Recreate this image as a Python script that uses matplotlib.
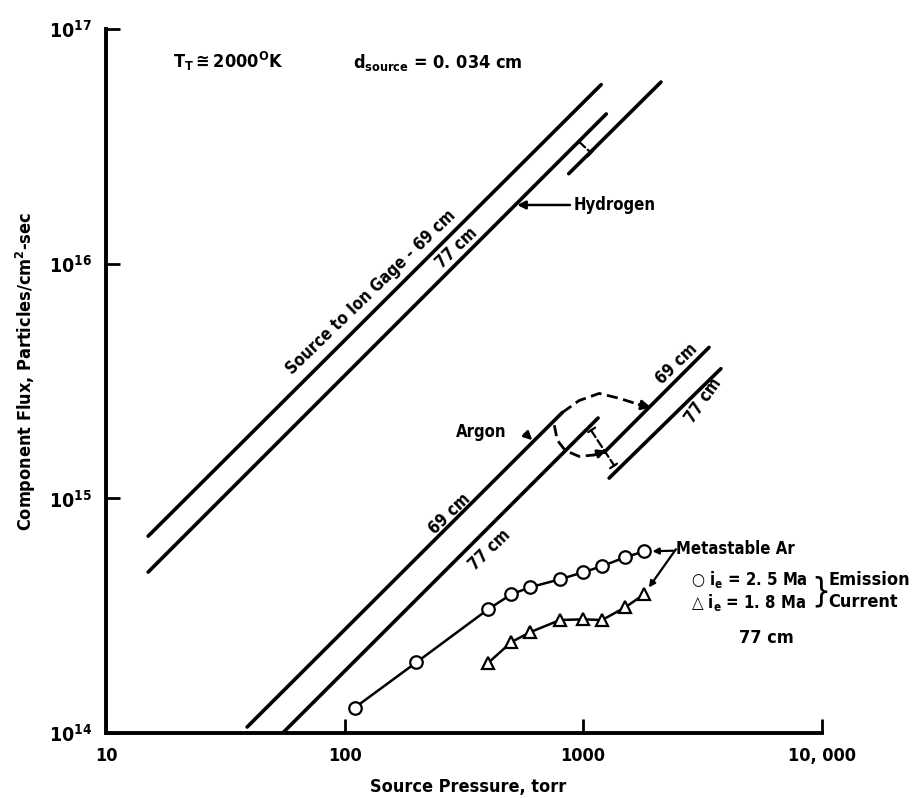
import matplotlib
matplotlib.use("Agg")
import matplotlib.pyplot as plt
from matplotlib.ticker import FixedLocator, FixedFormatter

plt.rcParams['font.family'] = ['DejaVu Sans']
plt.rcParams['font.stretch'] = 'condensed'
plt.rcParams['font.weight'] = 'bold'
plt.rcParams['mathtext.default'] = 'regular'

# hydrogen component flux, two source-to-gage distances (torr, particles/cm2-sec)
h69_p = [15, 1190]
h69_flux = [6.9e14, 5.8e16]
h77_p = [15, 1250]
h77_flux = [4.85e14, 4.35e16]
h77_shift_p = [870, 2120]
h77_shift_flux = [2.42e16, 5.95e16]

# argon component flux
ar69_p = [39, 817]
ar69_flux = [1.06e14, 2.32e15]
ar69_shift_p = [1225, 3370]
ar69_shift_flux = [1.57e15, 4.4e15]
ar77_p = [55, 1155]
ar77_flux = [1.0e14, 2.2e15]
ar77_shift_p = [1285, 3780]
ar77_shift_flux = [1.22e15, 3.57e15]

# transition paths between the argon curves
ar_upper_p = [817, 961, 1167, 1416, 1715, 1928]
ar_upper_flux = [2.32e15, 2.61e15, 2.80e15, 2.67e15, 2.51e15, 2.44e15]
ar_lower_p = [757, 779, 841, 961, 1111, 1248]
ar_lower_flux = [2.05e15, 1.77e15, 1.60e15, 1.51e15, 1.53e15, 1.60e15]

# offsets between the 77 cm curves
h_gap_p = [961, 1079]
h_gap_flux = [3.31e16, 2.97e16]
ar_gap_p = [1079, 1349]
ar_gap_flux = [1.95e15, 1.38e15]

# metastable argon, 77 cm
meta_p = [110, 200, 400, 500, 600, 800, 1000, 1200, 1500, 1800]
meta_25ma = [1.28e14, 2.0e14, 3.37e14, 3.9e14, 4.18e14, 4.52e14, 4.84e14, 5.14e14, 5.61e14, 5.94e14]
meta_18ma_p = [400, 500, 600, 800, 1000, 1200, 1500, 1800]
meta_18ma = [1.99e14, 2.44e14, 2.69e14, 3.03e14, 3.05e14, 3.03e14, 3.43e14, 3.9e14]

x_ticks = [10, 100, 1000, 10000]
x_labels = ['10', '100', '1000', '10, 000']
y_ticks = [1e14, 1e15, 1e16, 1e17]
y_labels = ['$10^{14}$', '$10^{15}$', '$10^{16}$', '$10^{17}$']

fig = plt.figure(figsize=(9.15, 7.98), dpi=100)
ax = fig.add_axes([0.116, 0.0815, 0.782, 0.882])
ax.set_xscale('log')
ax.set_yscale('log')
ax.set_xlim(10, 10000)
ax.set_ylim(1e14, 1e17)

lw = 2.6
for p, f in [(h69_p, h69_flux), (h77_p, h77_flux), (h77_shift_p, h77_shift_flux),
             (ar69_p, ar69_flux), (ar69_shift_p, ar69_shift_flux),
             (ar77_p, ar77_flux), (ar77_shift_p, ar77_shift_flux)]:
    ax.plot(p, f, color='black', lw=lw, solid_capstyle='round')

# dashed transition paths with arrowheads
ax.plot(ar_upper_p[:-1], ar_upper_flux[:-1], color='black', lw=2, ls=(0, (4, 2)))
ax.annotate('', xy=(ar_upper_p[-1], ar_upper_flux[-1]), xytext=(ar_upper_p[-2], ar_upper_flux[-2]),
            arrowprops=dict(arrowstyle='-|>', color='black', lw=2, mutation_scale=14,
                            shrinkA=0, shrinkB=0))
ax.plot(ar_lower_p[:-1], ar_lower_flux[:-1], color='black', lw=2, ls=(0, (4, 2)))
ax.annotate('', xy=(ar_lower_p[-1], ar_lower_flux[-1]), xytext=(ar_lower_p[-2], ar_lower_flux[-2]),
            arrowprops=dict(arrowstyle='-|>', color='black', lw=2, mutation_scale=12,
                            shrinkA=0, shrinkB=0))

for p, f in [(h_gap_p, h_gap_flux), (ar_gap_p, ar_gap_flux)]:
    ax.annotate('', xy=(p[1], f[1]), xytext=(p[0], f[0]),
                arrowprops=dict(arrowstyle='|-|, widthA=0.35, widthB=0.35', color='black',
                                lw=1.6, ls='--', shrinkA=0, shrinkB=0))

# metastable argon curves
ax.plot(meta_p, meta_25ma, color='black', lw=1.8, marker='o', ms=9,
        mfc='white', mec='black', mew=1.6)
ax.plot(meta_18ma_p, meta_18ma, color='black', lw=1.8, marker='^', ms=9,
        mfc='white', mec='black', mew=1.6)

fs = 12
lbl = dict(fontsize=fs, fontweight='bold', ha='center', va='center', rotation_mode='anchor')
ax.text(128.5, 7.53e15, 'Source to Ion Gage - 69 cm', rotation=44, **lbl)
ax.text(294, 1.17e16, '77 cm', rotation=44, **lbl)
ax.text(275, 8.6e14, '69 cm', rotation=44, **lbl)
ax.text(405, 6.0e14, '77 cm', rotation=44, **lbl)
ax.text(2473, 3.75e15, '69 cm', rotation=44, **lbl)
ax.text(3206, 2.61e15, '77 cm', rotation=55, **lbl)

ax.annotate('Hydrogen', xy=(529, 1.78e16), xytext=(916, 1.78e16), fontsize=fs,
            fontweight='bold', ha='left', va='center',
            arrowprops=dict(arrowstyle='-|>', color='black', lw=1.8, mutation_scale=12,
                            shrinkA=1, shrinkB=0))
ax.annotate('Argon', xy=(612, 1.77e15), xytext=(374, 1.91e15), fontsize=fs,
            fontweight='bold', ha='center', va='center',
            arrowprops=dict(arrowstyle='-|>', color='black', lw=1.8, mutation_scale=12,
                            shrinkA=12, shrinkB=0, connectionstyle='arc3,rad=-0.35'))
ax.annotate('Metastable Ar', xy=(meta_p[-1], meta_25ma[-1]), xytext=(2449, 6.07e14),
            fontsize=fs, fontweight='bold', ha='left', va='center',
            arrowprops=dict(arrowstyle='-|>', color='black', lw=1.6, mutation_scale=9,
                            shrinkA=0, shrinkB=6))
ax.annotate('', xy=(meta_18ma_p[-1], meta_18ma[-1]), xytext=(2449, 6.07e14),
            arrowprops=dict(arrowstyle='-|>', color='black', lw=1.6, mutation_scale=9,
                            shrinkA=0, shrinkB=6))

# key for the two emission currents
ax.text(2832, 4.5e14, '○ $i_e$ = 2. 5 Ma', fontsize=fs, ha='left', va='center')
ax.text(2832, 3.6e14, '△ $i_e$ = 1. 8 Ma', fontsize=fs, ha='left', va='center')
ax.text(9900, 4.0e14, '}', fontsize=24, ha='center', va='center', fontweight='normal')
ax.text(10690, 4.5e14, 'Emission', fontsize=13, ha='left', va='center')
ax.text(10690, 3.6e14, 'Current', fontsize=13, ha='left', va='center')
ax.text(4500, 2.54e14, '77 cm', fontsize=13, ha='left', va='center')

ax.text(19.1, 6.83e16, r'$T_T \cong 2000^O$K', fontsize=13, ha='left', va='baseline')
ax.text(108, 6.83e16, r'$d_{source}$ = 0. 034 cm', fontsize=13, ha='left', va='baseline')

# axes: only left and bottom, decade ticks pointing inward
for side in ['top', 'right']:
    ax.spines[side].set_visible(False)
for side in ['left', 'bottom']:
    ax.spines[side].set_linewidth(2.8)
ax.xaxis.set_major_locator(FixedLocator(x_ticks))
ax.xaxis.set_major_formatter(FixedFormatter(x_labels))
ax.yaxis.set_major_locator(FixedLocator(y_ticks))
ax.yaxis.set_major_formatter(FixedFormatter(y_labels))
ax.xaxis.set_minor_locator(FixedLocator([]))
ax.yaxis.set_minor_locator(FixedLocator([]))
ax.tick_params(direction='in', length=10, width=2, labelsize=13, pad=10)
ax.tick_params(axis='y', labelsize=14)

ax.set_xlabel('Source Pressure, torr', fontsize=13, fontweight='bold')
ax.set_ylabel('Component Flux, Particles/cm$^2$-sec', fontsize=13, fontweight='bold')
ax.xaxis.set_label_coords(0.506, -0.064)
ax.yaxis.set_label_coords(-0.095, 0.513)

fig.savefig('out.png', dpi=100)
